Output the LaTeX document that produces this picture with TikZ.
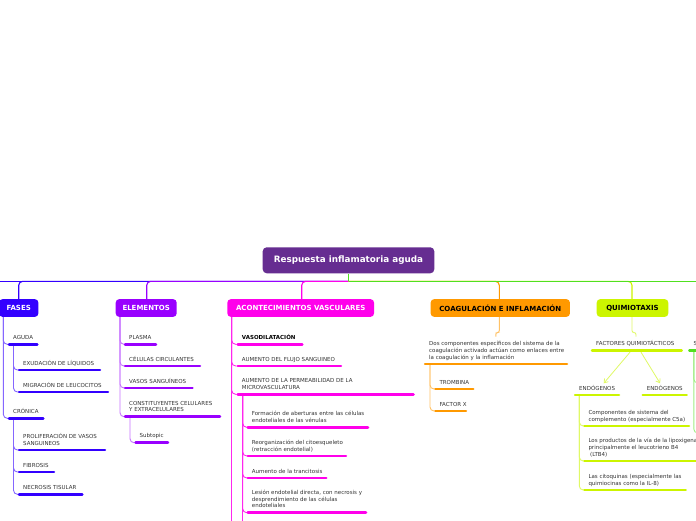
\documentclass[tikz,border=0pt]{standalone}
\usepackage{fontspec}
\setmainfont{DejaVu Sans}
\usetikzlibrary{arrows.meta}
\definecolor{mainc}{RGB}{102,45,145}
\definecolor{fasc}{RGB}{51,0,255}
\definecolor{elec}{RGB}{153,0,255}
\definecolor{acoc}{RGB}{255,0,235}
\definecolor{coac}{RGB}{255,153,0}
\definecolor{quic}{RGB}{204,245,0}
\definecolor{grec}{RGB}{80,224,31}
\definecolor{txtc}{RGB}{51,51,51}
\colorlet{fasl}{fasc!60!white}
\colorlet{elel}{elec!55!white}
\colorlet{acol}{acoc!85!white}
\colorlet{coal}{coac!60!white}
\colorlet{quil}{quic!60!white}
\colorlet{grel}{grec!55!white}
\pgfdeclarelayer{bg}
\pgfsetlayers{bg,main}
\tikzset{
  mainbox/.style={fill=mainc, rounded corners=4pt, text=white, font=\bfseries\fontsize{8.8}{10}\selectfont, minimum width=171.6pt, minimum height=26pt, inner sep=0pt},
  brbox/.style={rounded corners=3.5pt, font=\bfseries\fontsize{7}{8}\selectfont, minimum height=17.7pt, inner sep=0pt},
  leaftext/.style={font=\fontsize{5.5}{6.7}\selectfont, text=txtc, inner sep=0pt, align=left, text depth=0pt, anchor=south west},
  uline/.style={line width=2.5pt, line cap=round},
  topconn/.style={line width=1.1pt, rounded corners=4pt},
  subconn/.style={line width=0.9pt, rounded corners=4pt},
  arr/.style={line width=0.8pt, quil, -{Straight Barb[length=3.5pt,width=5pt]}},
}
\newcommand\mmleaf[6]{%
  \draw[uline,#5] (#2+1,#3) -- (#4-1,#3);
  \coordinate (#1-s) at (#2,#3);
  \coordinate (#1-e) at (#4,#3);
  \node[leaftext] (#1) at (#2+5,#3-4.7) {#6};}
\begin{document}
\begin{tikzpicture}[x=1pt,y=-1pt]
\useasboundingbox (0,0) rectangle (696,520);
\begin{pgfonlayer}{bg}
\fill[white] (0,0) rectangle (696,520);
\end{pgfonlayer}

% main and branch boxes
\node[mainbox] (main) at (348.5,260.3) {Respuesta inflamatoria aguda};
\node[brbox, fill=fasc, text=white, minimum width=39.4pt] (fases) at (18.7,308) {FASES};
\node[brbox, fill=elec, text=white, minimum width=61pt] (elem) at (146.2,308) {ELEMENTOS};
\node[brbox, fill=acoc, text=white, minimum width=146.7pt] (acon) at (300.7,308) {ACONTECIMIENTOS VASCULARES};
\node[brbox, fill=coac, text=black, minimum width=139.3pt] (coag) at (500.3,308) {COAGULACIÓN E INFLAMACIÓN};
\node[brbox, fill=quic, text=black, minimum width=71.6pt] (quim) at (632.5,308) {QUIMIOTAXIS};

\coordinate (hub) at (348.5,281.3);
\coordinate (offleft) at (-6,281.3);
\coordinate (offright) at (706,281.3);

% top connectors
\begin{pgfonlayer}{bg}
\draw[topconn,fasc] (hub) -- (offleft);
\draw[topconn,fasc] (hub) -| (fases.north);
\draw[topconn,elec] (hub) -| ([xshift=0.5pt]elem.north);
\draw[topconn,acoc] (hub) -| ([xshift=1pt]acon.north);
\draw[topconn,coac] (hub) -| ([xshift=-1pt]coag.north);
\draw[topconn,quic] (hub) -| ([xshift=-0.5pt]quim.north);
\draw[topconn,grec] (hub) -- (offright);
\draw[line width=1.1pt,grec] (main.south) -- (hub);
\end{pgfonlayer}

% FASES
\mmleaf{agu}{8}{344.3}{38.3}{fasc}{AGUDA}
\mmleaf{exu}{18}{370}{101}{fasc}{EXUDACIÓN DE LÍQUIDOS}
\mmleaf{mig}{18}{392}{109}{fasc}{MIGRACIÓN DE LEUCOCITOS}
\mmleaf{cro}{8}{418.3}{44.3}{fasc}{CRÓNICA}
\mmleaf{pro}{18}{450}{106}{fasc}{PROLIFERACIÓN DE VASOS\\SANGUINEOS}
\mmleaf{fib}{18}{472}{55}{fasc}{FIBROSIS}
\mmleaf{nec}{18}{494.3}{83.3}{fasc}{NECROSIS TISULAR}
\begin{pgfonlayer}{bg}
\draw[subconn,fasl] ([xshift=-4.7pt]agu-s |- fases.south) |- (agu-s);
\draw[subconn,fasl] ([xshift=-4.7pt]agu-s |- fases.south) |- (cro-s);
\draw[subconn,fasl] ([xshift=5.5pt]agu-s) |- (exu-s);
\draw[subconn,fasl] ([xshift=5.5pt]agu-s) |- (mig-s);
\draw[subconn,fasl] ([xshift=5.5pt]cro-s) |- (pro-s);
\draw[subconn,fasl] ([xshift=5.5pt]cro-s) |- (fib-s);
\draw[subconn,fasl] ([xshift=5.5pt]cro-s) |- (nec-s);
\end{pgfonlayer}

% ELEMENTOS
\mmleaf{pla}{124}{344.3}{157}{elec}{PLASMA}
\mmleaf{cel}{124}{366}{201}{elec}{CÉLULAS CIRCULANTES}
\mmleaf{vas}{124}{388}{193.5}{elec}{VASOS SANGUÍNEOS}
\mmleaf{con}{124}{416.7}{221}{elec}{CONSTITUYENTES CELULARES\\Y EXTRACELULARES}
\mmleaf{sub}{134.5}{442.7}{169}{elec}{Subtopic}
\begin{pgfonlayer}{bg}
\draw[subconn,elel] ([xshift=-4pt]pla-s |- elem.south) |- (pla-s);
\draw[subconn,elel] ([xshift=-4pt]pla-s |- elem.south) |- (cel-s);
\draw[subconn,elel] ([xshift=-4pt]pla-s |- elem.south) |- (vas-s);
\draw[subconn,elel] ([xshift=-4pt]pla-s |- elem.south) |- (con-s);
\draw[subconn,elel] ([xshift=6pt]con-s) |- (sub-s);
\end{pgfonlayer}

% ACONTECIMIENTOS VASCULARES
\mmleaf{vso}{236.7}{344.3}{303.3}{acoc}{\textcolor{black}{\bfseries VASODILATACIÓN}}
\mmleaf{afl}{236.7}{366}{342}{acoc}{AUMENTO DEL FLUJO SANGUINEO}
\mmleaf{ape}{236.7}{394.3}{414.5}{acoc}{AUMENTO DE LA PERMEABILIDAD DE LA\\MICROVASCULATURA}
\mmleaf{fab}{246.7}{427.3}{369}{acoc}{Formación de aberturas entre las células\\endoteliales de las vénulas}
\mmleaf{reo}{246.7}{456}{347}{acoc}{Reorganización del citoesqueleto\\(retracción endotelial)}
\mmleaf{aum}{246.7}{478}{327.3}{acoc}{Aumento de la trancitosis}
\mmleaf{les}{246.7}{512.7}{367}{acoc}{Lesión endotelial directa, con necrosis y\\desprendimiento de las células\\endoteliales}
\coordinate (acbot) at (231.7,530);
\coordinate (apbot) at (242.7,530);
\begin{pgfonlayer}{bg}
\draw[subconn,acol] (acbot |- acon.south) -- (acbot);
\draw[subconn,acol] (acbot |- acon.south) |- (vso-s);
\draw[subconn,acol] (acbot |- acon.south) |- (afl-s);
\draw[subconn,acol] (acbot |- acon.south) |- (ape-s);
\draw[subconn,acol] (apbot |- ape-s) -- (apbot);
\draw[subconn,acol] (apbot |- ape-s) |- (fab-s);
\draw[subconn,acol] (apbot |- ape-s) |- (reo-s);
\draw[subconn,acol] (apbot |- ape-s) |- (aum-s);
\draw[subconn,acol] (apbot |- ape-s) |- (les-s);
\end{pgfonlayer}

% COAGULACION E INFLAMACION
\mmleaf{dos}{424}{364}{568}{coac}{Dos componentes específicos del sistema de la\\coagulación activado actúan como enlaces entre\\la coagulación y la inflamación}
\mmleaf{tro}{434.3}{389}{474.3}{coac}{TROMBINA}
\mmleaf{fac}{434.3}{411}{467}{coac}{FACTOR X}
\begin{pgfonlayer}{bg}
\draw[subconn,coal,rounded corners=2pt] ([xshift=-1pt]coag.south) |- ++(-3.5,15.5) -- ++(0,4);
\draw[subconn,coal] ([xshift=6pt]dos-s) |- (tro-s);
\draw[subconn,coal] ([xshift=6pt]dos-s) |- (fac-s);
\end{pgfonlayer}

% QUIMIOTAXIS
\mmleaf{fq}{591}{350.7}{682.7}{quic}{FACTORES QUIMIOTÁCTICOS}
\mmleaf{en1}{574}{395}{620}{quic}{ENDÓGENOS}
\mmleaf{en2}{641.7}{395}{687.7}{quic}{ENDÓGENOS}
\mmleaf{cmp}{583.3}{426}{690}{quic}{Componentes de sistema del\\complemento (especialmente C5a)}
\mmleaf{lpr}{583.3}{461}{705}{quic}{Los productos de la vía de la lipoxigenasa,\\principalmente el leucotrieno B4\\\hspace{0.3em}(LTB4)}
\mmleaf{cit}{583.3}{490}{686.7}{quic}{Las citoquinas (especialmente las\\quimiocinas como la IL-8)}
\begin{pgfonlayer}{bg}
\draw[subconn,quil,rounded corners=2pt] ([xshift=-0.5pt]quim.south) |- ++(4,15.5) -- ++(0,4);
\draw[subconn,quil] ([xshift=5.3pt]en1-s) |- (cmp-s);
\draw[subconn,quil] ([xshift=5.3pt]en1-s) |- (lpr-s);
\draw[subconn,quil] ([xshift=5.3pt]en1-s) |- (cit-s);
\end{pgfonlayer}
\draw[arr] ([xshift=39pt,yshift=-1.5pt]fq-s) -- ([xshift=6.6pt,yshift=1.5pt]en1.north);
\draw[arr] ([xshift=50pt,yshift=-1.5pt]fq-s) -- ([xshift=-4.7pt,yshift=1.5pt]en2.north);

% green branch at right edge
\mmleaf{sgr}{688.3}{350.7}{712}{grec}{S}
\begin{pgfonlayer}{bg}
\draw[subconn,grel] ([xshift=5.5pt]sgr-s) |- (706,383);
\draw[subconn,grel] ([xshift=5.5pt]sgr-s) |- (706,433);
\end{pgfonlayer}
\end{tikzpicture}
\end{document}
